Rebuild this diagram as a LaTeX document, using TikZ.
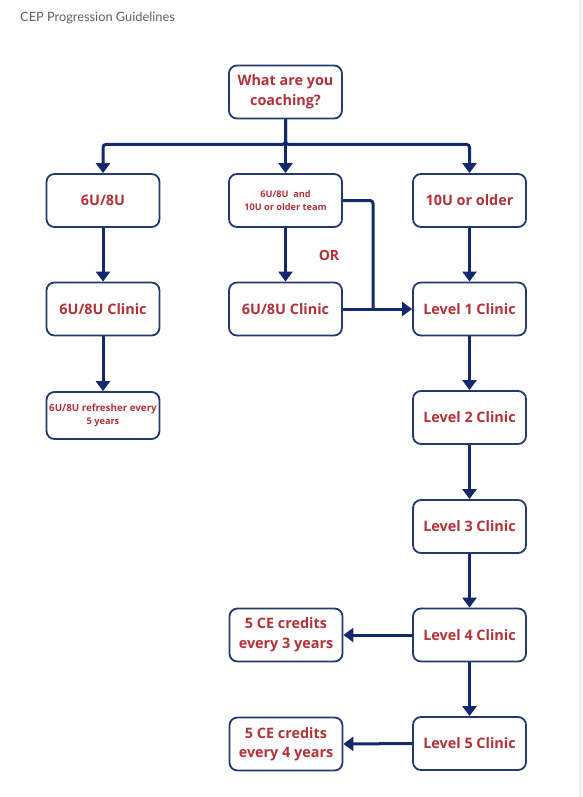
\documentclass[tikz,border=0pt]{standalone}
\usepackage{fontspec}
\setmainfont{Open Sans}
\newfontfamily\titlefont{Lato}
\usetikzlibrary{arrows.meta}
\definecolor{navy}{RGB}{20,40,110}
\definecolor{boxline}{RGB}{35,58,110}
\definecolor{txtred}{RGB}{178,50,55}
\definecolor{ttl}{RGB}{95,95,95}
\definecolor{strip}{RGB}{238,240,244}
\begin{document}
\begin{tikzpicture}[x=1pt,y=-1pt,
  box/.style={draw=boxline, line width=1.8pt, rounded corners=8pt, fill=white,
    minimum width=113pt, minimum height=53pt, inner sep=0pt, align=center,
    font=\fontsize{14.4}{19.5}\selectfont\bfseries, text=txtred},
  small/.style={font=\fontsize{9.2}{13}\selectfont\bfseries},
  conn/.style={draw=navy, line width=3pt, rounded corners=3pt},
  arr/.style={conn, -{Triangle[length=10pt,width=14pt]}}]
\path[use as bounding box] (0,0) rectangle (582,797);
\fill[strip] (579,0) rectangle (582,797);
\node[anchor=base west, text=ttl, inner sep=0pt, font=\titlefont\fontsize{12.8}{14}\selectfont] (title) at (20,22) {CEP Progression Guidelines};

\node[box] (q) at (285.5,92) {What are you\\coaching?};
\node[box] (a) at (103,200.5) {6U/8U};
\node[box, small] (b) at (285.5,200.5) {6U/8U\ \ and\\10U or older team};
\node[box] (c) at (469.5,200.5) {10U or older};
\node[box] (a2) at (103,309) {6U/8U Clinic};
\node[box] (b2) at (285.5,309) {6U/8U Clinic};
\node[box] (l1) at (469.5,309) {Level 1 Clinic};
\node[box, small, minimum height=47pt] (a3) at (103,415.5) {\fontsize{9.8}{13}\selectfont 6U/8U refresher every\\5 years};
\node[box] (l2) at (469.5,417.5) {Level 2 Clinic};
\node[box] (l3) at (469.5,526.5) {Level 3 Clinic};
\node[box] (l4) at (469.5,635) {Level 4 Clinic};
\node[box] (l5) at (469.5,743.5) {Level 5 Clinic};
\node[box] (ce3) at (286,635) {5 CE credits\\every 3 years};
\node[box] (ce4) at (286,744) {5 CE credits\\every 4 years};
\node[text=txtred, font=\fontsize{14}{16}\selectfont\bfseries] (or) at (329,255) {OR};

\coordinate (j) at (373,309);
\draw[arr] (q.south) -- ++(0,25) -| (a.north);
\draw[arr] (q.south) -- ++(0,25) -| (c.north);
\draw[arr] (q.south) -- (b.north);
\draw[arr] (a.south) -- (a2.north);
\draw[arr] (a2.south) -- (a3.north);
\draw[arr] (b.south) -- (b2.north);
\draw[conn] (b.east) -| (j);
\draw[arr] (b2.east) -- (l1.west);
\draw[arr] (c.south) -- (l1.north);
\draw[arr] (l1.south) -- (l2.north);
\draw[arr] (l2.south) -- (l3.north);
\draw[arr] (l3.south) -- (l4.north);
\draw[arr] (l4.south) -- (l5.north);
\draw[arr] (l4.west) -- (ce3.east);
\draw[arr] (l5.west) -- (ce4.east);
\end{tikzpicture}
\end{document}
